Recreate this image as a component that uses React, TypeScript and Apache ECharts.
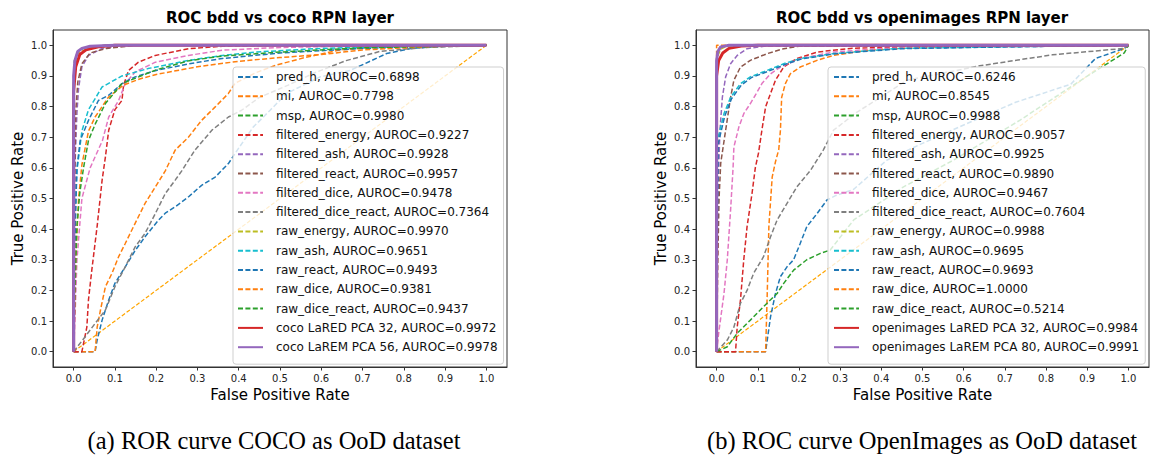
import React, { useEffect, useRef } from "react";
import * as echarts from "echarts";

// ---------- data ----------
const METHODS = [
  "pred_h", "mi", "msp", "filtered_energy", "filtered_ash", "filtered_react",
  "filtered_dice", "filtered_dice_react", "raw_energy", "raw_ash", "raw_react",
  "raw_dice", "raw_dice_react",
];
const COCO_AUROC = ["0.6898", "0.7798", "0.9980", "0.9227", "0.9928", "0.9957", "0.9478", "0.7364", "0.9970", "0.9651", "0.9493", "0.9381", "0.9437"];
const OI_AUROC = ["0.6246", "0.8545", "0.9988", "0.9057", "0.9925", "0.9890", "0.9467", "0.7604", "0.9988", "0.9695", "0.9693", "1.0000", "0.5214"];
const COCO_OURS = ["coco LaRED PCA 32, AUROC=0.9972", "coco LaREM PCA 56, AUROC=0.9978"];
const OI_OURS = ["openimages LaRED PCA 32, AUROC=0.9984", "openimages LaREM PCA 80, AUROC=0.9991"];
const TICKS = [0, 0.1, 0.2, 0.3, 0.4, 0.5, 0.6, 0.7, 0.8, 0.9, 1.0];
const DIAGONAL = [[0, 0], [1, 1]];

// ROC curves, bdd vs coco  ([FPR, TPR])
const coco_pred_h = [[0,0],[0.052,0],[0.057,0.038],[0.069,0.103],[0.085,0.169],[0.1,0.223],[0.125,0.277],[0.149,0.33],[0.173,0.375],[0.206,0.43],[0.222,0.452],[0.246,0.473],[0.278,0.505],[0.31,0.543],[0.343,0.57],[0.375,0.614],[0.391,0.647],[0.435,0.733],[0.476,0.788],[0.516,0.843],[0.597,0.897],[0.67,0.918],[0.758,0.973],[0.82,0.99],[0.9,0.998],[1,1]];
const coco_mi = [[0,0],[0.052,0],[0.057,0.08],[0.065,0.136],[0.077,0.212],[0.093,0.256],[0.109,0.31],[0.125,0.353],[0.149,0.419],[0.173,0.484],[0.198,0.538],[0.222,0.59],[0.246,0.658],[0.278,0.7],[0.31,0.755],[0.343,0.799],[0.375,0.843],[0.391,0.876],[0.44,0.91],[0.49,0.935],[0.56,0.96],[0.645,0.985],[0.75,0.995],[1,1]];
const coco_msp = [[0,0],[0,0.9],[0.002,0.95],[0.01,0.98],[0.03,0.995],[0.08,1],[1,1]];
const coco_filtered_energy = [[0,0],[0.02,0],[0.032,0.08],[0.036,0.17],[0.044,0.266],[0.057,0.41],[0.069,0.56],[0.077,0.636],[0.085,0.723],[0.1,0.79],[0.117,0.82],[0.121,0.87],[0.133,0.918],[0.157,0.945],[0.198,0.967],[0.278,0.989],[0.36,0.997],[0.5,1],[1,1]];
const coco_filtered_ash = [[0,0],[0.003,0.6],[0.008,0.78],[0.012,0.86],[0.02,0.93],[0.036,0.967],[0.069,0.99],[0.12,1],[1,1]];
const coco_filtered_react = [[0,0],[0.002,0.5],[0.005,0.78],[0.01,0.88],[0.02,0.94],[0.04,0.975],[0.08,0.99],[0.15,1],[1,1]];
const coco_filtered_dice = [[0,0],[0.003,0.1],[0.008,0.3],[0.02,0.5],[0.04,0.6],[0.07,0.69],[0.085,0.766],[0.109,0.82],[0.125,0.875],[0.149,0.913],[0.198,0.945],[0.278,0.967],[0.36,0.984],[0.5,0.993],[0.7,0.998],[1,1]];
const coco_filtered_dice_react = [[0,0],[0.028,0.049],[0.052,0.092],[0.077,0.136],[0.1,0.212],[0.125,0.277],[0.149,0.342],[0.173,0.386],[0.198,0.451],[0.222,0.516],[0.246,0.56],[0.262,0.59],[0.294,0.658],[0.335,0.723],[0.375,0.766],[0.407,0.788],[0.45,0.83],[0.52,0.87],[0.58,0.908],[0.66,0.95],[0.742,0.98],[0.85,0.993],[1,1]];
const coco_raw_energy = [[0,0],[0,0.88],[0.003,0.94],[0.012,0.975],[0.035,0.99],[0.1,1],[1,1]];
const coco_raw_ash = [[0,0],[0.002,0.3],[0.005,0.5],[0.008,0.59],[0.02,0.72],[0.036,0.79],[0.069,0.864],[0.117,0.9],[0.18,0.924],[0.28,0.951],[0.36,0.967],[0.44,0.978],[0.6,0.99],[0.8,0.997],[1,1]];
const coco_raw_react = [[0,0],[0.002,0.2],[0.004,0.41],[0.008,0.6],[0.016,0.69],[0.036,0.755],[0.06,0.82],[0.085,0.837],[0.117,0.875],[0.149,0.897],[0.2,0.918],[0.28,0.94],[0.36,0.957],[0.5,0.975],[0.7,0.99],[1,1]];
const coco_raw_dice = [[0,0],[0.005,0.3],[0.012,0.5],[0.02,0.61],[0.036,0.72],[0.052,0.766],[0.084,0.83],[0.12,0.87],[0.16,0.89],[0.2,0.905],[0.3,0.93],[0.4,0.948],[0.5,0.96],[0.6,0.97],[0.7,0.985],[0.85,0.995],[1,1]];
const coco_raw_dice_react = [[0,0],[0.003,0.2],[0.008,0.41],[0.015,0.52],[0.024,0.6],[0.036,0.69],[0.053,0.745],[0.077,0.81],[0.117,0.875],[0.2,0.92],[0.28,0.95],[0.36,0.965],[0.5,0.978],[0.7,0.992],[1,1]];
const coco_lared = [[0,0],[0,0.85],[0.005,0.93],[0.015,0.97],[0.03,0.985],[0.06,0.995],[0.1,1],[1,1]];
const coco_larem = [[0,0],[0,0.9],[0.003,0.95],[0.01,0.98],[0.02,0.99],[0.04,0.997],[0.1,1],[1,1]];

// ROC curves, bdd vs openimages
const oi_pred_h = [[0,0],[0.119,0],[0.123,0.038],[0.131,0.114],[0.143,0.19],[0.155,0.245],[0.171,0.277],[0.187,0.3],[0.203,0.353],[0.219,0.408],[0.244,0.451],[0.268,0.495],[0.29,0.51],[0.333,0.53],[0.413,0.625],[0.5,0.68],[0.6,0.74],[0.726,0.814],[0.86,0.873],[0.92,0.957],[0.99,0.99],[1,1]];
const oi_mi = [[0,0],[0.119,0],[0.123,0.19],[0.127,0.41],[0.135,0.57],[0.143,0.62],[0.151,0.66],[0.155,0.723],[0.158,0.83],[0.167,0.875],[0.179,0.907],[0.203,0.929],[0.244,0.951],[0.284,0.967],[0.365,0.984],[0.445,0.99],[0.6,0.997],[1,1]];
const oi_msp = [[0,0],[0,0.93],[0.002,0.97],[0.008,0.99],[0.02,0.998],[0.05,1],[1,1]];
const oi_filtered_energy = [[0,0],[0.046,0],[0.05,0.08],[0.058,0.169],[0.066,0.3],[0.074,0.408],[0.086,0.516],[0.094,0.6],[0.102,0.65],[0.11,0.723],[0.119,0.799],[0.131,0.843],[0.143,0.886],[0.163,0.929],[0.195,0.957],[0.244,0.978],[0.325,0.99],[0.5,0.997],[1,1]];
const oi_filtered_ash = [[0,0],[0.003,0.5],[0.008,0.72],[0.014,0.83],[0.022,0.897],[0.034,0.94],[0.05,0.967],[0.074,0.989],[0.115,0.997],[1,1]];
const oi_filtered_react = [[0,0],[0.003,0.3],[0.006,0.5],[0.01,0.615],[0.022,0.723],[0.034,0.83],[0.042,0.886],[0.058,0.929],[0.082,0.951],[0.123,0.973],[0.163,0.989],[0.2,0.997],[1,1]];
const oi_filtered_dice = [[0,0],[0.005,0.06],[0.018,0.19],[0.026,0.3],[0.034,0.462],[0.04,0.6],[0.042,0.668],[0.054,0.733],[0.066,0.777],[0.082,0.81],[0.094,0.837],[0.11,0.875],[0.131,0.907],[0.155,0.929],[0.203,0.957],[0.284,0.978],[0.405,0.99],[1,1]];
const oi_filtered_dice_react = [[0,0],[0.026,0.038],[0.042,0.08],[0.058,0.158],[0.074,0.2],[0.09,0.256],[0.114,0.31],[0.131,0.375],[0.147,0.43],[0.171,0.484],[0.195,0.538],[0.228,0.592],[0.259,0.658],[0.284,0.723],[0.339,0.78],[0.462,0.886],[0.639,0.933],[0.815,0.969],[0.99,0.99],[1,1]];
const oi_raw_energy = [[0,0],[0,0.92],[0.003,0.965],[0.01,0.988],[0.025,0.998],[0.06,1],[1,1]];
const oi_raw_ash = [[0,0],[0.001,0.4],[0.002,0.69],[0.018,0.777],[0.034,0.83],[0.058,0.875],[0.082,0.897],[0.123,0.918],[0.163,0.94],[0.203,0.957],[0.284,0.973],[0.365,0.982],[0.445,0.99],[0.7,0.995],[1,1]];
const oi_raw_react = [[0,0],[0.002,0.4],[0.004,0.68],[0.02,0.77],[0.036,0.825],[0.06,0.87],[0.085,0.895],[0.125,0.915],[0.165,0.937],[0.205,0.955],[0.285,0.972],[0.37,0.981],[0.45,0.989],[0.7,0.995],[1,1]];
const oi_raw_dice = [[0,0],[0,1],[1,1]];
const oi_raw_dice_react = [[0,0],[0.026,0.016],[0.05,0.06],[0.082,0.103],[0.114,0.147],[0.147,0.19],[0.163,0.223],[0.187,0.266],[0.219,0.3],[0.252,0.321],[0.276,0.332],[0.333,0.43],[0.454,0.538],[0.575,0.625],[0.736,0.755],[0.897,0.897],[0.96,0.95],[0.99,0.975],[1,1]];
const oi_lared = [[0,0],[0,0.9],[0.005,0.95],[0.015,0.975],[0.03,0.99],[0.06,0.998],[0.1,1],[1,1]];
const oi_larem = [[0,0],[0,0.95],[0.003,0.98],[0.01,0.995],[0.03,1],[1,1]];

const COCO_CURVES = [coco_pred_h, coco_mi, coco_msp, coco_filtered_energy, coco_filtered_ash, coco_filtered_react, coco_filtered_dice, coco_filtered_dice_react, coco_raw_energy, coco_raw_ash, coco_raw_react, coco_raw_dice, coco_raw_dice_react];
const OI_CURVES = [oi_pred_h, oi_mi, oi_msp, oi_filtered_energy, oi_filtered_ash, oi_filtered_react, oi_filtered_dice, oi_filtered_dice_react, oi_raw_energy, oi_raw_ash, oi_raw_react, oi_raw_dice, oi_raw_dice_react];

// ---------- style ----------
const TAB = ["#1f77b4", "#ff7f0e", "#2ca02c", "#d62728", "#9467bd", "#8c564b", "#e377c2", "#7f7f7f", "#bcbd22", "#17becf", "#1f77b4", "#ff7f0e", "#2ca02c"];
const FONT = "DejaVu Sans";
const GRIDS = [
  { left: 53, top: 30, width: 454, height: 337 },
  { left: 696, top: 30, width: 453, height: 337 },
];

function buildPanel(idx: number, curves: number[][][], aurocs: string[], ours: string[], ourCurves: number[][][]) {
  const series: any[] = [];
  const names: string[] = [];
  series.push({
    type: "line", xAxisIndex: idx, yAxisIndex: idx, data: DIAGONAL, symbol: "none", silent: true,
    lineStyle: { color: "#ffa500", width: 1.2, type: [4, 2] }, z: 2,
  });
  curves.forEach((c, i) => {
    const name = `${METHODS[i]}, AUROC=${aurocs[i]}`;
    names.push(name);
    series.push({
      type: "line", name, xAxisIndex: idx, yAxisIndex: idx, data: c, symbol: "none", silent: true,
      itemStyle: { color: TAB[i] },
      lineStyle: { color: TAB[i], width: 1.5, type: [5, 2.4] }, z: 3,
    });
  });
  const oc = ["#d62728", "#9467bd"];
  ours.forEach((name, i) => {
    names.push(name);
    series.push({
      type: "line", name, xAxisIndex: idx, yAxisIndex: idx, data: ourCurves[i], symbol: "none", silent: true,
      itemStyle: { color: oc[i] },
      lineStyle: { color: oc[i], width: 3, type: "solid" }, z: 4,
    });
  });
  return { series, names };
}

const axisCommon = {
  min: -0.05, max: 1.05,
  splitLine: { show: false },
  axisLine: { show: true, onZero: false, lineStyle: { color: "#333", width: 1 } },
};

export default function App() {
  const ref = useRef<HTMLDivElement>(null);
  useEffect(() => {
    if (!ref.current) return;
    const chart = echarts.init(ref.current, undefined, { renderer: "svg" });
    const p0 = buildPanel(0, COCO_CURVES, COCO_AUROC, COCO_OURS, [coco_lared, coco_larem]);
    const p1 = buildPanel(1, OI_CURVES, OI_AUROC, OI_OURS, [oi_lared, oi_larem]);
    const xAxis = [0, 1].map((i) => ({
      ...axisCommon, type: "value", gridIndex: i,
      name: "False Positive Rate", nameLocation: "middle", nameGap: 20,
      nameTextStyle: { fontFamily: FONT, fontSize: 15, color: "#000" },
      axisTick: { show: true, inside: false, length: 3.5, customValues: TICKS, lineStyle: { color: "#333" } },
      axisLabel: { customValues: TICKS, formatter: (v: number) => v.toFixed(1), fontFamily: FONT, fontSize: 10, color: "#222", margin: 6 },
    }));
    const yAxis = [0, 1].map((i) => ({
      ...axisCommon, type: "value", gridIndex: i,
      name: "True Positive Rate", nameLocation: "middle", nameGap: 28,
      nameTextStyle: { fontFamily: FONT, fontSize: 15, color: "#000" },
      axisTick: { show: true, inside: false, length: 3.5, customValues: TICKS, lineStyle: { color: "#333" } },
      axisLabel: { customValues: TICKS, formatter: (v: number) => v.toFixed(1), fontFamily: FONT, fontSize: 10, color: "#222", margin: 6 },
    }));
    const legendCommon = {
      orient: "vertical", selectedMode: false, itemWidth: 25, itemHeight: 14, itemGap: 5.3,
      backgroundColor: "rgba(255,255,255,0.8)", borderColor: "#cfcfcf", borderWidth: 1, borderRadius: 3,
      itemStyle: { opacity: 0 },
      textStyle: { fontFamily: FONT, fontSize: 12, color: "#111", lineHeight: 14, padding: [0, 0, 0, 8] },
    };
    chart.setOption({
      animation: false,
      backgroundColor: "#fff",
      title: [
        { text: "ROC bdd vs coco RPN layer", left: 280, top: 10, textAlign: "center", padding: 0,
          textStyle: { fontFamily: FONT, fontWeight: "bold", fontSize: 15, color: "#000" } },
        { text: "ROC bdd vs openimages RPN layer", left: 922, top: 10, textAlign: "center", padding: 0,
          textStyle: { fontFamily: FONT, fontWeight: "bold", fontSize: 15, color: "#000" } },
        { text: "(a) ROR curve COCO as OoD dataset", left: 274, top: 428, textAlign: "center", padding: 0,
          textStyle: { fontFamily: "Liberation Serif", fontWeight: "normal", fontSize: 24.5, color: "#000" } },
        { text: "(b) ROC curve OpenImages as OoD dataset", left: 922, top: 428, textAlign: "center", padding: 0,
          textStyle: { fontFamily: "Liberation Serif", fontWeight: "normal", fontSize: 24.5, color: "#000" } },
      ],
      grid: GRIDS.map((g) => ({ ...g, show: true, borderColor: "#333", borderWidth: 1, backgroundColor: "transparent", containLabel: false })),
      xAxis, yAxis,
      legend: [
        { ...legendCommon, left: 233, top: 67, padding: [3, 6, 10, 4], data: p0.names },
        { ...legendCommon, left: 828, top: 67, padding: [3, 6, 10, 5], data: p1.names },
      ],
      series: [...p0.series, ...p1.series],
    });
    return () => chart.dispose();
  }, []);
  return <div ref={ref} style={{ position: "absolute", left: 0, top: 0, width: 1150, height: 458 }} />;
}
